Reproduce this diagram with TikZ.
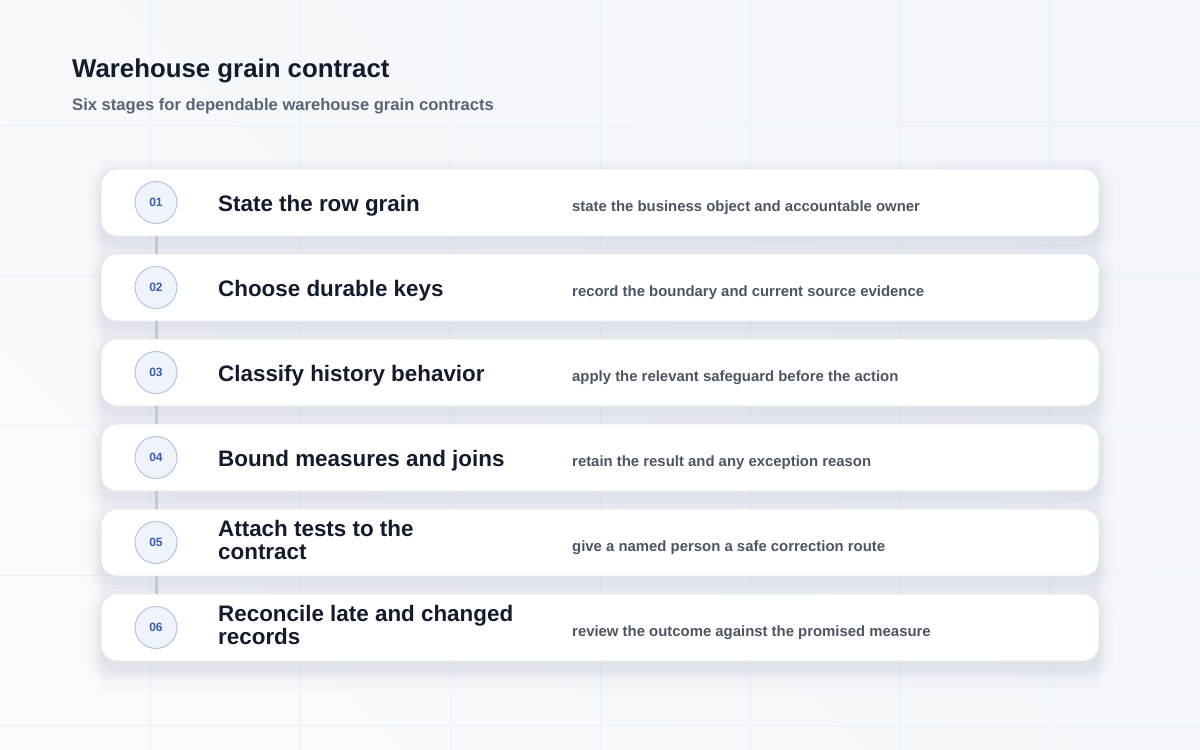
\documentclass[tikz,border=0pt]{standalone}
\usepackage{fontspec}
\setmainfont{Liberation Sans}
\usetikzlibrary{positioning}
\definecolor{bgc}{HTML}{F2F5FA}
\definecolor{bgl}{HTML}{F8FAFC}
\definecolor{gridc}{HTML}{EAEFF5}
\definecolor{ink}{HTML}{141B2D}
\definecolor{subc}{HTML}{5A6474}
\definecolor{descc}{HTML}{4B5563}
\definecolor{cardline}{HTML}{E1E6EE}
\definecolor{numfill}{HTML}{EEF3FC}
\definecolor{numline}{HTML}{B4C5E4}
\definecolor{numtext}{HTML}{3A5DA6}
\definecolor{linkc}{HTML}{C4C8D0}
\definecolor{shadowc}{HTML}{9AA3B8}
\tikzset{
  card/.style={rounded corners=16pt, fill=white, draw=cardline, line width=0.8pt, minimum width=998pt, minimum height=67pt, inner sep=0pt},
  numdot/.style={circle, fill=numfill, draw=numline, line width=1pt, minimum size=42pt, inner sep=0pt, text=numtext, font=\bfseries\fontsize{12}{14}\selectfont},
  steptitle/.style={anchor=west, text=ink, font=\bfseries\fontsize{22.4}{23}\selectfont, align=left, inner sep=0pt},
  stepdesc/.style={anchor=west, text=descc, font=\bfseries\fontsize{14.9}{17}\selectfont, inner sep=0pt},
  link/.style={draw=linkc, line width=3pt},
}
\begin{document}
\begin{tikzpicture}[x=1pt,y=-1pt]
\shade[left color=bgl, right color=bgc, shading angle=135] (0,0) rectangle (1200,750);
\useasboundingbox (0,0) rectangle (1200,750);
% faint grid
\foreach \gx in {150,300,450,600,750,900,1050} \draw[gridc, line width=0.6pt] (\gx,0) -- (\gx,750);
\foreach \gy in {125,275,425,575,725} \draw[gridc, line width=0.6pt] (0,\gy) -- (1200,\gy);
% panel shade
\fill[shadowc, opacity=0.04] (100,160) rectangle (1100,690);
% title
\node[anchor=base west, inner sep=0pt, text=ink, font=\bfseries\fontsize{25.8}{28}\selectfont] (title) at (72,77) {Warehouse grain contract};
\node[anchor=base west, inner sep=0pt, text=subc, font=\bfseries\fontsize{16.6}{19}\selectfont] (subtitle) at (72,110) {Six stages for dependable warehouse grain contracts};
% shadows
\foreach \cy in {202.5,287.5,372.5,457.5,542.5,627.5}{
  \foreach \s/\o in {14/0.02,11/0.03,8/0.04,5/0.05,2/0.06}{
    \fill[shadowc, opacity=\o, rounded corners=18pt] (101-\s,\cy-33.5-\s+8) rectangle (1099+\s,\cy+33.5+\s+8);
  }
}
% cards
\node[card] (c1) at (600,202.5) {};
\node[card] (c2) at (600,287.5) {};
\node[card] (c3) at (600,372.5) {};
\node[card] (c4) at (600,457.5) {};
\node[card] (c5) at (600,542.5) {};
\node[card] (c6) at (600,627.5) {};
% number dots
\node[numdot] (n1) at (156,202.5) {01};
\node[numdot] (n2) at (156,287.5) {02};
\node[numdot] (n3) at (156,372.5) {03};
\node[numdot] (n4) at (156,457.5) {04};
\node[numdot] (n5) at (156,542.5) {05};
\node[numdot] (n6) at (156,627.5) {06};
% links
\draw[link] (n1.south |- c1.south) -- (n2.north |- c2.north);
\draw[link] (n2.south |- c2.south) -- (n3.north |- c3.north);
\draw[link] (n3.south |- c3.south) -- (n4.north |- c4.north);
\draw[link] (n4.south |- c4.south) -- (n5.north |- c5.north);
\draw[link] (n5.south |- c5.south) -- (n6.north |- c6.north);
% titles
\node[steptitle] (t1) at (218,206) {State the row grain};
\node[steptitle] (t2) at (218,291) {Choose durable keys};
\node[steptitle] (t3) at (218,376) {Classify history behavior};
\node[steptitle] (t4) at (218,461) {Bound measures and joins};
\node[steptitle] (t5) at (218,540) {Attach tests to the\\contract};
\node[steptitle] (t6) at (218,625) {Reconcile late and changed\\records};
% descriptions
\node[stepdesc] (d1) at (572,208) {state the business object and accountable owner};
\node[stepdesc] (d2) at (572,293) {record the boundary and current source evidence};
\node[stepdesc] (d3) at (572,378) {apply the relevant safeguard before the action};
\node[stepdesc] (d4) at (572,463) {retain the result and any exception reason};
\node[stepdesc] (d5) at (572,548) {give a named person a safe correction route};
\node[stepdesc] (d6) at (572,633) {review the outcome against the promised measure};
\end{tikzpicture}
\end{document}
